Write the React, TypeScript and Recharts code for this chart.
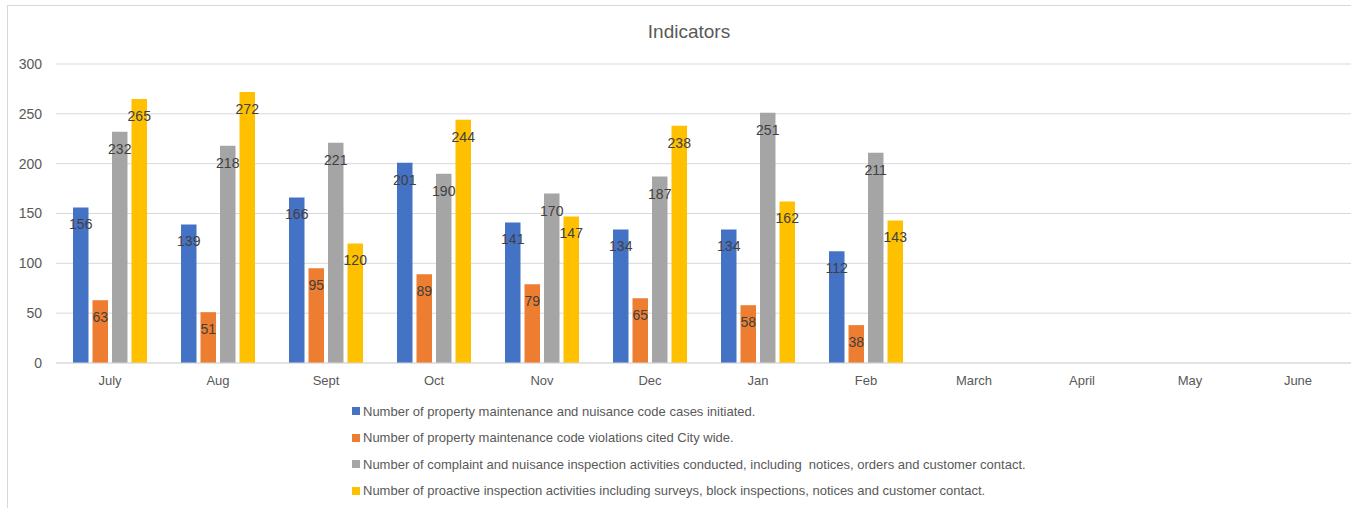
import React from "react";
import {
  Bar,
  BarChart,
  CartesianGrid,
  LabelList,
  Legend,
  XAxis,
  YAxis,
} from "recharts";

const months = [
  "July",
  "Aug",
  "Sept",
  "Oct",
  "Nov",
  "Dec",
  "Jan",
  "Feb",
  "March",
  "April",
  "May",
  "June",
];
const casesInitiated = [156, 139, 166, 201, 141, 134, 134, 112];
const violationsCited = [63, 51, 95, 89, 79, 65, 58, 38];
const complaintInspections = [232, 218, 221, 190, 170, 187, 251, 211];
const proactiveInspections = [265, 272, 120, 244, 147, 238, 162, 143];
const yTicks = [0, 50, 100, 150, 200, 250, 300];

const series = [
  {
    key: "cases",
    name: "Number of property maintenance and nuisance code cases initiated.",
    color: "#4472C4",
  },
  {
    key: "violations",
    name: "Number of property maintenance code violations cited City wide.",
    color: "#ED7D31",
  },
  {
    key: "complaints",
    name: "Number of complaint and nuisance inspection activities conducted, including  notices, orders and customer contact.",
    color: "#A5A5A5",
  },
  {
    key: "proactive",
    name: "Number of proactive inspection activities including surveys, block inspections, notices and customer contact.",
    color: "#FFC000",
  },
];

const data = months.map((m, i) => ({
  month: m,
  cases: casesInitiated[i],
  violations: violationsCited[i],
  complaints: complaintInspections[i],
  proactive: proactiveInspections[i],
}));

const FONT = "'Liberation Sans', Arial, sans-serif";

const renderLegend = () => (
  <div style={{ fontFamily: FONT, fontSize: 13, color: "#595959" }}>
    {series.map((s) => (
      <div
        key={s.key}
        style={{
          height: 26.5,
          display: "flex",
          alignItems: "center",
          whiteSpace: "pre",
        }}
      >
        <span
          style={{
            display: "inline-block",
            width: 8,
            height: 8,
            background: s.color,
            marginRight: 3,
          }}
        />
        {s.name}
      </div>
    ))}
  </div>
);

export default function App() {
  return (
    <div
      style={{
        position: "fixed",
        left: 0,
        top: 0,
        width: 1351,
        height: 508,
        overflow: "hidden",
        background: "#fff",
      }}
    >
      <div
        style={{
          position: "absolute",
          left: 7,
          top: 5,
          width: 1380,
          height: 540,
          border: "1px solid #d9d9d9",
        }}
      />
      <div
        style={{
          position: "absolute",
          left: 7,
          width: 1364,
          top: 21,
          textAlign: "center",
          fontFamily: FONT,
          fontSize: 19,
          color: "#595959",
        }}
      >
        Indicators
      </div>
      <div style={{ position: "absolute", left: 0, top: 0 }}>
        <BarChart
          width={1353}
          height={508}
          data={data}
          margin={{ top: 64, right: 1, left: 0, bottom: 9 }}
          barSize={15.5}
          barGap={4}
          barCategoryGap="16%"
        >
          <CartesianGrid vertical={false} stroke="#d9d9d9" />
          <XAxis
            dataKey="month"
            height={30}
            tickLine={false}
            tickSize={0}
            tickMargin={13}
            axisLine={{ stroke: "#d9d9d9" }}
            tick={{ fill: "#595959", fontSize: 13, fontFamily: FONT }}
            interval={0}
          />
          <YAxis
            width={56}
            domain={[0, 300]}
            ticks={yTicks}
            tickLine={false}
            axisLine={false}
            tickSize={0}
            tickMargin={14}
            tick={{ fill: "#595959", fontSize: 14, fontFamily: FONT }}
          />
          <Legend
            layout="vertical"
            verticalAlign="bottom"
            align="center"
            content={renderLegend}
            wrapperStyle={{ left: 352, top: 398, bottom: "auto", width: "auto" }}
          />
          {series.map((s) => (
            <Bar
              key={s.key}
              dataKey={s.key}
              name={s.name}
              fill={s.color}
              isAnimationActive={false}
            >
              <LabelList
                dataKey={s.key}
                position="insideTop"
                offset={12}
                fill="#404040"
                fontSize={14}
                fontFamily={FONT}
              />
            </Bar>
          ))}
        </BarChart>
      </div>
    </div>
  );
}
